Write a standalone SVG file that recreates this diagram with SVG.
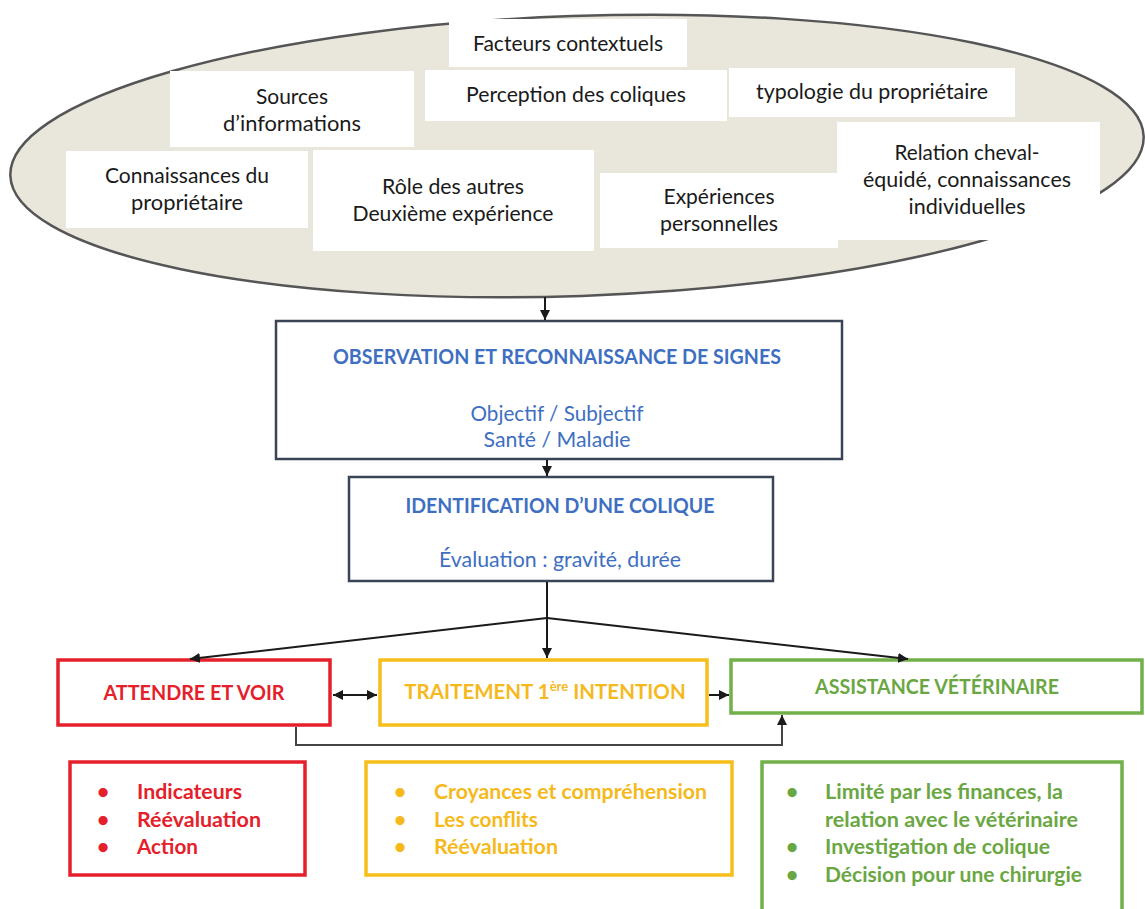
<svg xmlns="http://www.w3.org/2000/svg" width="1145" height="909" viewBox="0 0 1145 909">
<defs>
<marker id="ah" viewBox="0 0 10 10" refX="10" refY="5" markerWidth="10" markerHeight="10" markerUnits="userSpaceOnUse" orient="auto-start-reverse">
<path d="M0,0 L10,5 L0,10 z" fill="#1a1a1a"/>
</marker>
<style>
.wb{fill:#ffffff;stroke:none}
.t{font-family:Lato,"Open Sans","Liberation Sans",sans-serif;font-size:21px;fill:#1a1a1a;text-anchor:middle}
.bl{font-family:Lato,"Open Sans","Liberation Sans",sans-serif;fill:#3e6fc1;text-anchor:middle}
.bb{font-weight:bold;font-size:20px}
.bn{font-size:22px}
.dk{fill:#ffffff;stroke:#394555;stroke-width:2.5}
.hd{font-family:Lato,"Open Sans","Liberation Sans",sans-serif;font-weight:bold;font-size:20.5px;text-anchor:middle}
.li{font-family:Lato,"Open Sans","Liberation Sans",sans-serif;font-weight:bold;font-size:21px}
.red{fill:#e5202a}
.yel{fill:#f6b91c}
.grn{fill:#6aa743}
.rbox{fill:#fff;stroke:#e5202a;stroke-width:3.5}
.ybox{fill:#fff;stroke:#f6be1a;stroke-width:3.5}
.gbox{fill:#fff;stroke:#72b04a;stroke-width:3.5}
.cn{fill:none;stroke:#1a1a1a;stroke-width:2}
.cg{fill:none;stroke:#444;stroke-width:2}
</style>
</defs>
<rect width="1145" height="909" fill="#ffffff"/>

<g id="factors">
<ellipse cx="577" cy="156" rx="567" ry="140" transform="rotate(-2 577 156)" fill="#e9e6dc" stroke="#555" stroke-width="2.5"/>
<g id="n-facteurs"><rect class="wb" x="449" y="19" width="238" height="48"/><text class="t" x="568" y="51" textLength="190" lengthAdjust="spacingAndGlyphs">Facteurs contextuels</text></g>
<g id="n-perception"><rect class="wb" x="425" y="70" width="302" height="51"/><text class="t" x="576" y="102" textLength="220" lengthAdjust="spacingAndGlyphs">Perception des coliques</text></g>
<g id="n-sources"><rect class="wb" x="170" y="71" width="244" height="76"/><text class="t" x="292" y="104" textLength="72" lengthAdjust="spacingAndGlyphs">Sources</text><text class="t" x="292" y="131" textLength="138" lengthAdjust="spacingAndGlyphs">d’informations</text></g>
<g id="n-typologie"><rect class="wb" x="729" y="68" width="286" height="49"/><text class="t" x="872" y="99" textLength="232" lengthAdjust="spacingAndGlyphs">typologie du propriétaire</text></g>
<g id="n-connaissances"><rect class="wb" x="66" y="151" width="242" height="77"/><text class="t" x="187" y="183" textLength="164" lengthAdjust="spacingAndGlyphs">Connaissances du</text><text class="t" x="187" y="210" textLength="112" lengthAdjust="spacingAndGlyphs">propriétaire</text></g>
<g id="n-role"><rect class="wb" x="313" y="150" width="281" height="101"/><text class="t" x="453" y="194" textLength="142" lengthAdjust="spacingAndGlyphs">Rôle des autres</text><text class="t" x="453" y="221" textLength="201" lengthAdjust="spacingAndGlyphs">Deuxième expérience</text></g>
<g id="n-experiences"><rect class="wb" x="600" y="173" width="238" height="75"/><text class="t" x="719" y="204" textLength="111" lengthAdjust="spacingAndGlyphs">Expériences</text><text class="t" x="719" y="231" textLength="118" lengthAdjust="spacingAndGlyphs">personnelles</text></g>
<g id="n-relation"><rect class="wb" x="837" y="122" width="263" height="118"/><text class="t" x="967" y="160" textLength="145" lengthAdjust="spacingAndGlyphs">Relation cheval-</text><text class="t" x="967" y="187" textLength="208" lengthAdjust="spacingAndGlyphs">équidé, connaissances</text><text class="t" x="967" y="214" textLength="117" lengthAdjust="spacingAndGlyphs">individuelles</text></g>
</g>

<g id="n-observation">
<rect class="dk" x="276" y="321" width="566" height="138"/>
<text class="bl bb" x="557" y="364" textLength="448" lengthAdjust="spacingAndGlyphs">OBSERVATION ET RECONNAISSANCE DE SIGNES</text>
<text class="bl bn" x="557" y="421" textLength="173" lengthAdjust="spacingAndGlyphs">Objectif / Subjectif</text>
<text class="bl bn" x="557" y="447" textLength="147" lengthAdjust="spacingAndGlyphs">Santé / Maladie</text>
</g>

<g id="n-identification">
<rect class="dk" x="349" y="477" width="424" height="104"/>
<text class="bl bb" x="560" y="513" textLength="309" lengthAdjust="spacingAndGlyphs">IDENTIFICATION D’UNE COLIQUE</text>
<text class="bl bn" x="560" y="567" textLength="242" lengthAdjust="spacingAndGlyphs">Évaluation : gravité, durée</text>
</g>

<g id="n-attendre">
<rect class="rbox" x="58" y="660" width="272" height="65"/>
<text class="hd red" x="194" y="700" textLength="181" lengthAdjust="spacingAndGlyphs">ATTENDRE ET VOIR</text>
</g>

<g id="n-traitement">
<rect class="ybox" x="380" y="660" width="327" height="65"/>
<text class="hd yel" x="545" y="699">TRAITEMENT 1<tspan font-size="13" dy="-8">ère</tspan><tspan dy="8"> INTENTION</tspan></text>
</g>

<g id="n-assistance">
<rect class="gbox" x="731" y="660" width="411" height="53"/>
<text class="hd grn" x="937" y="694" textLength="244" lengthAdjust="spacingAndGlyphs">ASSISTANCE VÉTÉRINAIRE</text>
</g>

<g id="n-list-red">
<rect class="rbox" x="70" y="762" width="235" height="113"/>
<text class="li red" x="97" y="799">•</text><text class="li red" x="137" y="799" textLength="105" lengthAdjust="spacingAndGlyphs">Indicateurs</text>
<text class="li red" x="97" y="827">•</text><text class="li red" x="137" y="827" textLength="124" lengthAdjust="spacingAndGlyphs">Réévaluation</text>
<text class="li red" x="97" y="854">•</text><text class="li red" x="137" y="854" textLength="61" lengthAdjust="spacingAndGlyphs">Action</text>
</g>

<g id="n-list-yellow">
<rect class="ybox" x="366" y="762" width="366" height="113"/>
<text class="li yel" x="394" y="799">•</text><text class="li yel" x="434" y="799" textLength="273" lengthAdjust="spacingAndGlyphs">Croyances et compréhension</text>
<text class="li yel" x="394" y="827">•</text><text class="li yel" x="434" y="827" textLength="104" lengthAdjust="spacingAndGlyphs">Les conflits</text>
<text class="li yel" x="394" y="854">•</text><text class="li yel" x="434" y="854" textLength="124" lengthAdjust="spacingAndGlyphs">Réévaluation</text>
</g>

<g id="n-list-green">
<rect class="gbox" x="762" y="762" width="360" height="160"/>
<text class="li grn" x="786" y="799">•</text><text class="li grn" x="825" y="799" textLength="238" lengthAdjust="spacingAndGlyphs">Limité par les finances, la</text>
<text class="li grn" x="825" y="827" textLength="253" lengthAdjust="spacingAndGlyphs">relation avec le vétérinaire</text>
<text class="li grn" x="786" y="854">•</text><text class="li grn" x="825" y="854" textLength="225" lengthAdjust="spacingAndGlyphs">Investigation de colique</text>
<text class="li grn" x="786" y="882">•</text><text class="li grn" x="825" y="882" textLength="257" lengthAdjust="spacingAndGlyphs">Décision pour une chirurgie</text>
</g>

<g id="connectors">
<line class="cn" x1="545" y1="297" x2="545" y2="320" marker-end="url(#ah)"/>
<line class="cn" x1="547" y1="460" x2="547" y2="476" marker-end="url(#ah)"/>
<polyline class="cn" points="547,582 547,618"/>
<line class="cn" x1="547" y1="618" x2="190" y2="659" marker-end="url(#ah)"/>
<line class="cn" x1="547" y1="618" x2="547" y2="658" marker-end="url(#ah)"/>
<line class="cn" x1="547" y1="618" x2="908" y2="659" marker-end="url(#ah)"/>
<line class="cn" x1="333" y1="695" x2="377" y2="695" marker-start="url(#ah)" marker-end="url(#ah)"/>
<line class="cn" x1="709" y1="695" x2="729" y2="695" marker-end="url(#ah)"/>
<polyline class="cg" points="296,727 296,745 782,745 782,715" marker-end="url(#ah)"/>
</g>
</svg>
